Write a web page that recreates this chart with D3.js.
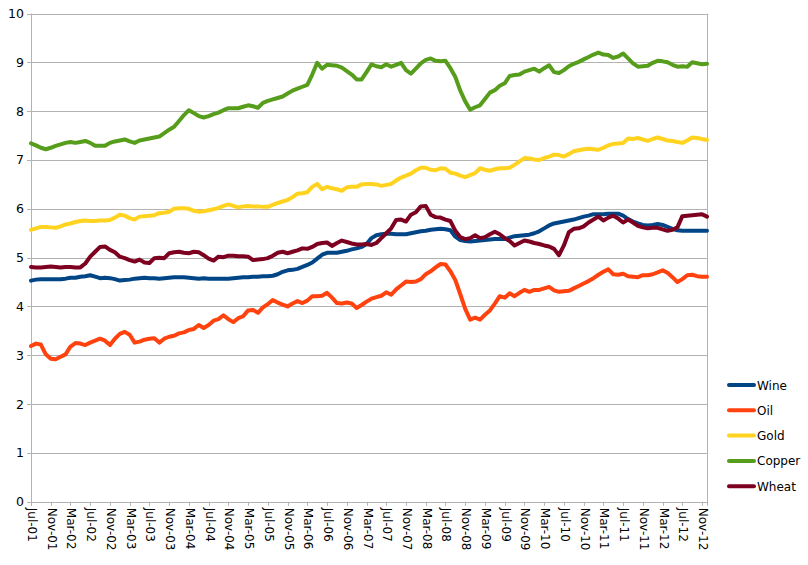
<!DOCTYPE html>
<html>
<head>
<meta charset="utf-8">
<script src="https://cdn.jsdelivr.net/npm/d3@7"></script>
<style>
  html, body { margin: 0; padding: 0; background: #fff; }
  svg { display: block; font-family: "DejaVu Sans", Verdana, sans-serif; }
</style>
</head>
<body>
<svg id="chart" width="808" height="565"></svg>
<script>
// Categories: monthly, Jul-01 .. Dec-12
const months = d3.timeMonth.range(new Date(2001, 6, 1), new Date(2013, 0, 1));
const fmt = d3.timeFormat("%b-%y");
const categories = months.map(fmt);
const tickLabels = ["Jul-01","Nov-01","Mar-02","Jul-02","Nov-02","Mar-03","Jul-03","Nov-03","Mar-04","Jul-04","Nov-04","Mar-05","Jul-05","Nov-05","Mar-06","Jul-06","Nov-06","Mar-07","Jul-07","Nov-07","Mar-08","Jul-08","Nov-08","Mar-09","Jul-09","Nov-09","Mar-10","Jul-10","Nov-10","Mar-11","Jul-11","Nov-11","Mar-12","Jul-12","Nov-12"];
const yTicks = [0,1,2,3,4,5,6,7,8,9,10];

const seriesNames = ["Wine","Oil","Gold","Copper","Wheat"];
const seriesColors = ["#004586","#ff420e","#ffd320","#579d1c","#7e0021"];

const wine = [4.53,4.55,4.56,4.56,4.56,4.56,4.56,4.57,4.59,4.59,4.61,4.62,4.64,4.61,4.58,4.59,4.58,4.56,4.53,4.54,
4.55,4.57,4.58,4.59,4.58,4.58,4.57,4.58,4.59,4.60,4.60,4.60,4.59,4.58,4.57,4.58,4.57,4.57,4.57,4.57,
4.57,4.58,4.59,4.60,4.60,4.61,4.61,4.62,4.62,4.63,4.66,4.71,4.74,4.75,4.77,4.81,4.85,4.90,4.98,5.06,
5.10,5.10,5.10,5.12,5.14,5.17,5.19,5.22,5.28,5.40,5.46,5.48,5.49,5.49,5.48,5.48,5.48,5.50,5.52,5.54,
5.55,5.57,5.58,5.59,5.58,5.56,5.43,5.36,5.34,5.33,5.34,5.35,5.36,5.37,5.38,5.38,5.38,5.41,5.44,5.45,
5.46,5.47,5.50,5.54,5.60,5.66,5.70,5.72,5.74,5.76,5.78,5.81,5.84,5.86,5.89,5.89,5.89,5.90,5.90,5.90,
5.86,5.79,5.74,5.70,5.67,5.66,5.67,5.69,5.67,5.63,5.59,5.56,5.55,5.55,5.55,5.55,5.55,5.55];

const oil = [3.19,3.24,3.22,3.02,2.93,2.92,2.97,3.02,3.18,3.25,3.24,3.21,3.26,3.30,3.34,3.30,3.21,3.34,3.44,3.48,
3.42,3.26,3.28,3.32,3.34,3.35,3.26,3.34,3.38,3.40,3.45,3.47,3.52,3.54,3.62,3.56,3.62,3.71,3.74,3.82,
3.74,3.68,3.76,3.80,3.92,3.93,3.87,3.98,4.05,4.13,4.08,4.04,4.00,4.06,4.11,4.07,4.12,4.21,4.21,4.22,
4.28,4.18,4.07,4.06,4.08,4.06,3.97,4.03,4.10,4.16,4.19,4.22,4.29,4.24,4.35,4.43,4.51,4.50,4.51,4.56,
4.66,4.72,4.80,4.87,4.86,4.72,4.54,4.25,3.95,3.73,3.77,3.73,3.83,3.92,4.06,4.21,4.18,4.27,4.21,4.28,
4.34,4.30,4.34,4.34,4.37,4.40,4.33,4.30,4.31,4.32,4.37,4.42,4.47,4.52,4.58,4.65,4.71,4.76,4.66,4.65,
4.67,4.62,4.61,4.60,4.64,4.64,4.66,4.70,4.74,4.69,4.60,4.50,4.56,4.64,4.65,4.62,4.61,4.61];

const gold = [5.57,5.60,5.63,5.63,5.62,5.61,5.64,5.68,5.70,5.73,5.75,5.76,5.75,5.75,5.76,5.76,5.77,5.82,5.88,5.86,
5.81,5.78,5.84,5.85,5.86,5.87,5.91,5.92,5.94,6.00,6.01,6.01,6.00,5.96,5.94,5.95,5.97,5.99,6.02,6.06,
6.09,6.06,6.03,6.05,6.06,6.05,6.05,6.04,6.04,6.08,6.12,6.15,6.18,6.24,6.31,6.32,6.34,6.45,6.51,6.40,
6.45,6.42,6.40,6.37,6.44,6.45,6.45,6.50,6.51,6.51,6.50,6.47,6.49,6.51,6.58,6.64,6.68,6.72,6.79,6.84,
6.84,6.80,6.79,6.83,6.82,6.74,6.72,6.68,6.65,6.69,6.73,6.83,6.80,6.78,6.81,6.83,6.83,6.84,6.90,6.97,
7.04,7.03,7.01,7.00,7.04,7.07,7.11,7.10,7.07,7.12,7.18,7.20,7.22,7.23,7.22,7.21,7.25,7.30,7.33,7.34,
7.35,7.44,7.43,7.45,7.42,7.39,7.43,7.46,7.43,7.40,7.39,7.37,7.35,7.40,7.46,7.45,7.43,7.41];

const copper = [7.34,7.30,7.25,7.22,7.25,7.29,7.32,7.35,7.37,7.35,7.37,7.39,7.35,7.29,7.29,7.29,7.35,7.38,7.40,7.42,
7.38,7.35,7.40,7.42,7.44,7.46,7.48,7.55,7.62,7.68,7.80,7.92,8.02,7.96,7.90,7.87,7.90,7.94,7.97,8.02,
8.06,8.06,8.06,8.09,8.12,8.10,8.07,8.17,8.21,8.24,8.27,8.30,8.36,8.42,8.46,8.50,8.54,8.75,8.99,8.87,
8.95,8.94,8.93,8.89,8.82,8.75,8.65,8.65,8.80,8.96,8.92,8.90,8.96,8.91,8.95,8.99,8.84,8.77,8.87,8.98,
9.05,9.08,9.03,9.02,9.03,8.88,8.70,8.42,8.20,8.03,8.08,8.12,8.25,8.38,8.43,8.52,8.57,8.72,8.74,8.75,
8.81,8.84,8.87,8.81,8.88,8.94,8.80,8.78,8.84,8.92,8.97,9.01,9.06,9.11,9.16,9.20,9.16,9.15,9.09,9.12,
9.18,9.08,8.98,8.91,8.92,8.93,8.99,9.03,9.02,9.00,8.95,8.91,8.92,8.91,9.00,8.98,8.96,8.97];

const wheat = [4.81,4.80,4.80,4.81,4.82,4.81,4.80,4.81,4.81,4.80,4.80,4.88,5.02,5.12,5.22,5.23,5.16,5.11,5.02,4.99,
4.95,4.92,4.96,4.90,4.89,4.99,5.00,4.99,5.09,5.11,5.12,5.10,5.09,5.12,5.11,5.05,4.98,4.94,5.02,5.01,
5.04,5.04,5.03,5.03,5.02,4.95,4.96,4.97,4.99,5.04,5.10,5.12,5.09,5.12,5.15,5.19,5.18,5.22,5.28,5.30,
5.31,5.24,5.30,5.35,5.32,5.29,5.27,5.27,5.28,5.26,5.30,5.40,5.50,5.60,5.77,5.78,5.74,5.88,5.93,6.05,
6.06,5.88,5.83,5.82,5.78,5.75,5.55,5.42,5.38,5.40,5.46,5.40,5.42,5.48,5.53,5.48,5.40,5.34,5.25,5.30,
5.35,5.33,5.30,5.28,5.25,5.23,5.18,5.05,5.25,5.52,5.59,5.60,5.64,5.72,5.78,5.84,5.76,5.82,5.86,5.80,
5.72,5.78,5.72,5.65,5.62,5.60,5.61,5.61,5.58,5.55,5.57,5.62,5.85,5.86,5.87,5.88,5.89,5.84];

const seriesValues = [wine, oil, gold, copper, wheat];

const svg = d3.select("#chart");
const plotLeft = 31, plotRight = 707, plotTop = 13.5, plotBottom = 501.8;

const x = d3.scalePoint().domain(categories).range([plotLeft, plotRight]);
const y = d3.scaleLinear().domain([0, 10]).range([plotBottom, plotTop]);

const grid = "#b3b3b3";

// horizontal gridlines
svg.append("g").selectAll("line").data(yTicks).join("line")
  .attr("x1", plotLeft - 4).attr("x2", plotRight)
  .attr("y1", d => Math.round(y(d)) + 0.5).attr("y2", d => Math.round(y(d)) + 0.5)
  .attr("stroke", grid).attr("stroke-width", 1);

// left axis and right border
svg.append("line").attr("x1", plotLeft + 0.5).attr("x2", plotLeft + 0.5)
  .attr("y1", plotTop).attr("y2", plotBottom + 4).attr("stroke", grid);
svg.append("line").attr("x1", plotRight + 0.5).attr("x2", plotRight + 0.5)
  .attr("y1", plotTop).attr("y2", plotBottom + 4).attr("stroke", grid);

// y tick labels
svg.append("g").selectAll("text").data(yTicks).join("text")
  .attr("x", 24).attr("y", d => y(d) + 4.5)
  .attr("text-anchor", "end")
  .attr("font-size", 12.5).attr("fill", "#000")
  .text(d => d);

// x ticks + labels
const xt = svg.append("g");
xt.selectAll("line").data(tickLabels).join("line")
  .attr("x1", d => Math.round(x(d)) + 0.5).attr("x2", d => Math.round(x(d)) + 0.5)
  .attr("y1", plotBottom).attr("y2", plotBottom + 4)
  .attr("stroke", grid);
xt.selectAll("text").data(tickLabels).join("text")
  .attr("transform", d => `translate(${x(d) - 3},${plotBottom + 6}) rotate(90)`)
  .attr("text-anchor", "start")
  .attr("font-size", 12).attr("fill", "#000")
  .text(d => d);

// series lines
const line = d3.line().x((d, i) => x(categories[i])).y(d => y(d)).curve(d3.curveLinear);
svg.append("g").selectAll("path").data(seriesValues).join("path")
  .attr("d", d => line(d))
  .attr("fill", "none")
  .attr("stroke", (d, i) => seriesColors[i])
  .attr("stroke-width", 4)
  .attr("stroke-linejoin", "round")
  .attr("stroke-linecap", "round");

// legend
const lg = svg.append("g");
seriesNames.forEach((name, i) => {
  const yy = 385 + i * 25.3;
  lg.append("line").attr("x1", 729).attr("x2", 754).attr("y1", yy).attr("y2", yy)
    .attr("stroke", seriesColors[i]).attr("stroke-width", 4).attr("stroke-linecap", "round");
  lg.append("text").attr("x", 757).attr("y", yy + 4.5)
    .attr("font-size", 12).attr("fill", "#000").text(name);
});
</script>
</body>
</html>
